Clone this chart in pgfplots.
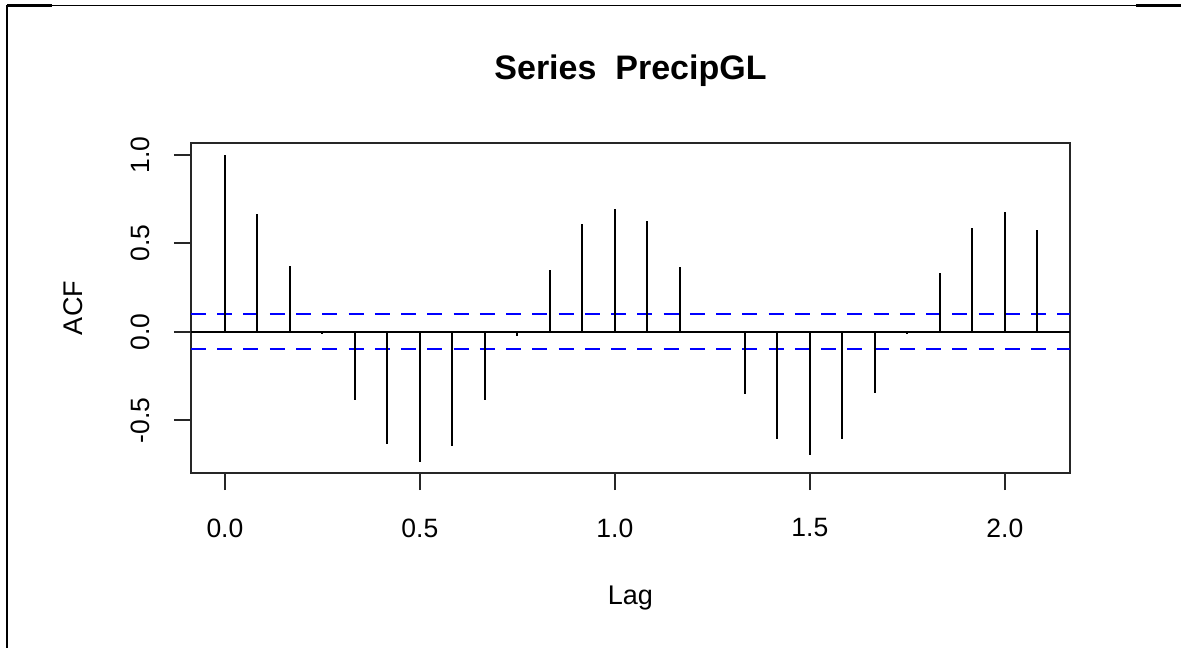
\documentclass[border=0pt]{standalone}
\usepackage{fontspec}
\setmainfont{Liberation Sans}
\usepackage{pgfplots}
\pgfplotsset{compat=1.18}

% 1 px of the reference = 0.4pt
\def\u{0.4pt}
\definecolor{rblue}{RGB}{0,0,255}

\begin{document}
\begin{tikzpicture}
\useasboundingbox (0,0) rectangle (1181*\u,648*\u);

% page frame around the figure
\draw[line width=0.5pt] (7*\u,642.5*\u) -- (1181*\u,642.5*\u);
\draw[line width=1.1pt] (7*\u,642.2*\u) -- (52*\u,642.2*\u);
\draw[line width=1.1pt] (1136*\u,642.2*\u) -- (1181*\u,642.2*\u);
\draw[line width=1.1pt] (7*\u,643*\u) -- (7*\u,0);

\begin{axis}[
    at={(191*\u,175*\u)}, anchor=south west,
    scale only axis,
    width=879*\u, height=330*\u,
    xmin=-0.087, xmax=2.167,
    ymin=-0.798, ymax=1.066,
    axis line style={black!85, line width=0.8pt},
    tick align=outside,
    tick pos=left,
    major tick length=6.8pt,
    every tick/.style={black!85, line width=0.8pt},
    xtick={0,0.5,1,1.5,2},
    xticklabels={0.0,0.5,1.0,1.5,2.0},
    ytick={-0.5,0,0.5,1},
    yticklabels={-0.5,0.0,0.5,1.0},
    tick label style={font=\fontsize{10.6}{12}\selectfont, inner sep=0pt},
    xticklabel style={anchor=center, yshift=-15.2pt},
    yticklabel style={xshift=-13.6pt, rotate=90, anchor=center},
    xlabel={Lag},
    ylabel={ACF},
    label style={font=\fontsize{10.8}{12}\selectfont},
    xlabel style={at={(axis description cs:0.5,-0.3780)}, anchor=center},
    ylabel style={at={(axis description cs:-0.1342,0.5)}, anchor=center},
    title={Series\ \ PrecipGL},
    title style={at={(axis description cs:0.5,1.1727)}, anchor=center,
                 font=\bfseries\fontsize{13.6}{16}\selectfont},
    clip=false,
]
% confidence bounds
\addplot[color=rblue, dash pattern=on 6pt off 4.5pt, line width=0.8pt]
    coordinates {(-0.087,0.1) (2.167,0.1)};
\addplot[color=rblue, dash pattern=on 6pt off 4.5pt, line width=0.8pt]
    coordinates {(-0.087,-0.1) (2.167,-0.1)};
% zero line
\addplot[color=black, line width=0.8pt] coordinates {(-0.087,0) (2.167,0)};
% autocorrelations
\addplot[ycomb, color=black, mark=none, line width=0.8pt] coordinates {
    (0.0000, 1.000) (0.0833, 0.665) (0.1667, 0.373) (0.2500,-0.013)
    (0.3333,-0.386) (0.4167,-0.636) (0.5000,-0.738) (0.5833,-0.646)
    (0.6667,-0.386) (0.7500,-0.024) (0.8333, 0.347) (0.9167, 0.607)
    (1.0000, 0.695) (1.0833, 0.627) (1.1667, 0.365) (1.2500, 0.004)
    (1.3333,-0.354) (1.4167,-0.606) (1.5000,-0.697) (1.5833,-0.606)
    (1.6667,-0.346) (1.7500,-0.013) (1.8333, 0.333) (1.9167, 0.586)
    (2.0000, 0.676) (2.0833, 0.576)
};
\end{axis}
\end{tikzpicture}
\end{document}
